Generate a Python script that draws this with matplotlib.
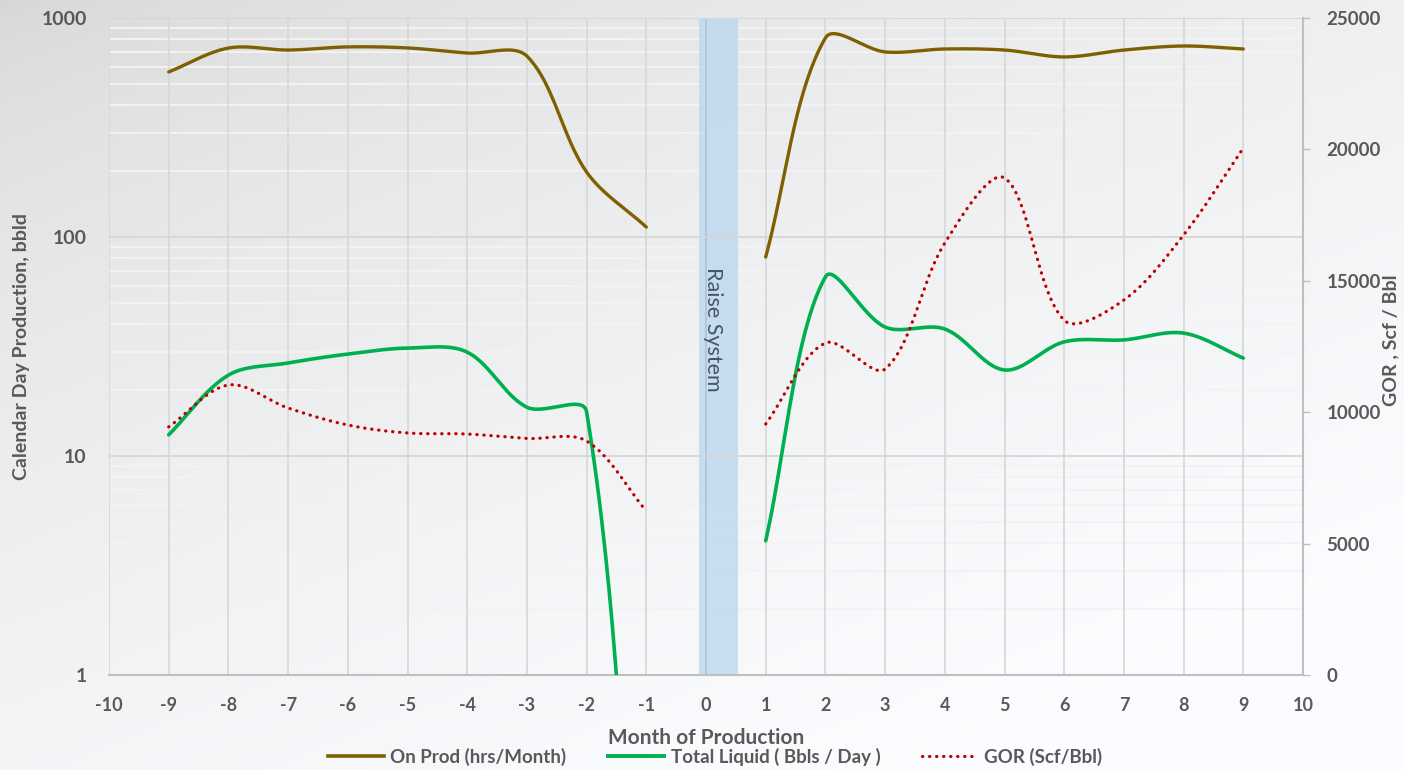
import numpy as np
import matplotlib
matplotlib.use("Agg")
import matplotlib.pyplot as plt
from matplotlib.lines import Line2D

# ---------------- data ----------------
months_before = [-9, -8, -7, -6, -5, -4, -3, -2, -1]
months_after = [1, 2, 3, 4, 5, 6, 7, 8, 9]

onprod_before = [567, 729, 714, 738, 730, 692, 670, 198, 111]
onprod_after = [81, 811, 700, 722, 714, 664, 714, 745, 722]

liquid_before = [12.5, 23.4, 26.6, 29.2, 31.1, 29.8, 16.7, 15.9, 0.008]
liquid_after = [4.1, 65.7, 38.8, 38.0, 24.7, 33.2, 33.9, 36.4, 28.0]

gor_before = [9440, 11035, 10160, 9513, 9209, 9170, 9000, 8903, 6240]
gor_after = [9551, 12633, 11644, 16438, 18912, 13500, 14269, 16743, 20053]

x_ticks = list(range(-10, 11))
left_ticks = [1, 10, 100, 1000]
right_ticks = [0, 5000, 10000, 15000, 20000, 25000]

band_x = (-0.12, 0.54)
band_label = "Raise System"

series_names = ["On Prod (hrs/Month)", "Total Liquid ( Bbls / Day )", "GOR (Scf/Bbl)"]

# ---------------- style ----------------
BROWN = "#7f6000"
GREEN = "#00b050"
RED = "#c00000"
TXT = "#595959"
FONT = "Lato"

W, H = 1404, 770
fig = plt.figure(figsize=(W / 100, H / 100), dpi=100)

# gradient background
bg = fig.add_axes([0, 0, 1, 1], zorder=-10)
gx, gy = np.meshgrid(np.linspace(0, 1, 300), np.linspace(0, 1, 200))
t = np.clip((gx * 0.55 + gy * 0.75) / 1.1, 0, 1) ** 0.6
c0 = np.array([0.84, 0.84, 0.84])
c1 = np.array([0.985, 0.99, 1.0])
img = c0[None, None, :] * (1 - t[..., None]) + c1[None, None, :] * t[..., None]
bg.imshow(img, aspect="auto", extent=[0, 1, 0, 1], origin="upper")
bg.axis("off")

rect = [109 / W, 1 - 675 / H, (1303 - 109) / W, (675 - 18) / H]
ax = fig.add_axes(rect)
ax.set_facecolor("none")
ax2 = ax.twinx()
ax2.set_facecolor("none")

ax.set_yscale("log")
ax.set_xlim(-10, 10)
ax.set_ylim(1, 1000)
ax2.set_ylim(0, 25000)

# grid
for xv in x_ticks:
    ax.axvline(xv, color="#d9d9d9", lw=1.3, zorder=0.5)
for dec in [1, 10, 100]:
    for m in range(2, 10):
        ax.axhline(dec * m, color="#f3f3f3", lw=1.4, zorder=0.4)
for yv in [10, 100, 1000]:
    ax.axhline(yv, color="#d6d6d6", lw=1.3, zorder=0.6)

# band
ax.axvspan(band_x[0], band_x[1], color="#bdd7ee", alpha=0.8, zorder=0.45, lw=0)
ax.axvline(0, color="#aec6de", lw=1.3, zorder=0.55)
ax.text(0.12, 38, band_label, rotation=-90, ha="center", va="center",
        color="#44546a", fontsize=15.5, family=FONT, zorder=3)


def smooth(axis, xs, ys, n=40):
    pts = axis.transData.transform(np.column_stack([xs, ys]))
    P = [pts[0]] + list(pts) + [pts[-1]]
    out = []
    for i in range(1, len(P) - 2):
        p0, p1, p2, p3 = P[i - 1], P[i], P[i + 1], P[i + 2]
        d01 = np.linalg.norm(p1 - p0)
        d12 = np.linalg.norm(p2 - p1)
        d23 = np.linalg.norm(p3 - p2)
        f1 = d12 / (d01 + d12) if (d01 + d12) > 0 else 0.5
        f2 = d12 / (d12 + d23) if (d12 + d23) > 0 else 0.5
        if d01 == 0:
            c1 = p1 + (p2 - p1) / 3
        else:
            c1 = p1 + (p2 - p0) / 3 * f1
        if d23 == 0:
            c2 = p2 - (p2 - p1) / 3
        else:
            c2 = p2 - (p3 - p1) / 3 * f2
        tt = np.linspace(0, 1, n)[:, None]
        seg = ((1 - tt) ** 3) * p1 + 3 * ((1 - tt) ** 2) * tt * c1 + 3 * (1 - tt) * tt ** 2 * c2 + tt ** 3 * p2
        out.append(seg if i == 1 else seg[1:])
    out = np.vstack(out)
    data = axis.transData.inverted().transform(out)
    return data[:, 0], data[:, 1]


for xs, ys in [(months_before, onprod_before), (months_after, onprod_after)]:
    sx, sy = smooth(ax, xs, ys)
    ax.plot(sx, sy, color=BROWN, lw=2.4, solid_capstyle="round", zorder=4)
for xs, ys in [(months_before, liquid_before), (months_after, liquid_after)]:
    sx, sy = smooth(ax, xs, ys)
    ax.plot(sx, sy, color=GREEN, lw=2.6, solid_capstyle="round", zorder=4)
for xs, ys in [(months_before, gor_before), (months_after, gor_after)]:
    sx, sy = smooth(ax2, xs, ys)
    ax2.plot(sx, sy, color=RED, lw=2.3, linestyle=(0, (0.1, 2.1)),
             dash_capstyle="round", zorder=4)

# ticks
ax.set_xticks(x_ticks)
ax.set_xticklabels([str(v) for v in x_ticks])
ax.set_yticks(left_ticks)
ax.set_yticklabels([str(v) for v in left_ticks])
ax.yaxis.set_minor_locator(matplotlib.ticker.NullLocator())
ax.tick_params(axis="x", length=0, pad=16, labelsize=13, labelcolor=TXT)
ax.tick_params(axis="y", length=0, pad=16, labelsize=14, labelcolor=TXT)
for lab in ax.get_xticklabels() + ax.get_yticklabels():
    lab.set_fontweight("bold")
    lab.set_family(FONT)

ax2.set_yticks(right_ticks)
ax2.set_yticklabels([str(v) for v in right_ticks])
ax2.tick_params(axis="y", length=5, width=1, color="#bfbfbf", pad=12,
                labelsize=13.5, labelcolor=TXT)
for lab in ax2.get_yticklabels():
    lab.set_fontweight("bold")
    lab.set_family(FONT)

for s in ["top", "left"]:
    ax.spines[s].set_visible(False)
    ax2.spines[s].set_visible(False)
ax.spines["right"].set_visible(False)
ax.spines["bottom"].set_color("#bfbfbf")
ax.spines["bottom"].set_linewidth(1.5)
ax2.spines["bottom"].set_visible(False)
ax2.spines["right"].set_color("#bfbfbf")
ax2.spines["right"].set_linewidth(1.5)

fig.text(22 / W, 1 - 347 / H, "Calendar Day Production, bbld", rotation=90,
         ha="center", va="center", fontsize=14, fontweight="bold", color=TXT, family=FONT)
fig.text(1391 / W, 1 - 340 / H, "GOR , Scf / Bbl", rotation=90,
         ha="center", va="center", fontsize=14, fontweight="bold", color=TXT, family=FONT)
fig.text(706 / W, 1 - 738 / H, "Month of Production", ha="center", va="center",
         fontsize=15, fontweight="bold", color=TXT, family=FONT)

handles = [
    Line2D([], [], color=BROWN, lw=2.6),
    Line2D([], [], color=GREEN, lw=2.8),
    Line2D([], [], color=RED, lw=2.3, linestyle=(0, (0.1, 2.1)), dash_capstyle="round"),
]
leg = fig.legend(handles, series_names, loc="center", bbox_to_anchor=(715 / W, 1 - 757 / H),
                 ncol=3, frameon=False, handlelength=3.0, columnspacing=2.2,
                 handletextpad=0.35,
                 prop={"family": FONT, "weight": "bold", "size": 13.5})
for txt in leg.get_texts():
    txt.set_color(TXT)

fig.savefig("out.png", dpi=100)
